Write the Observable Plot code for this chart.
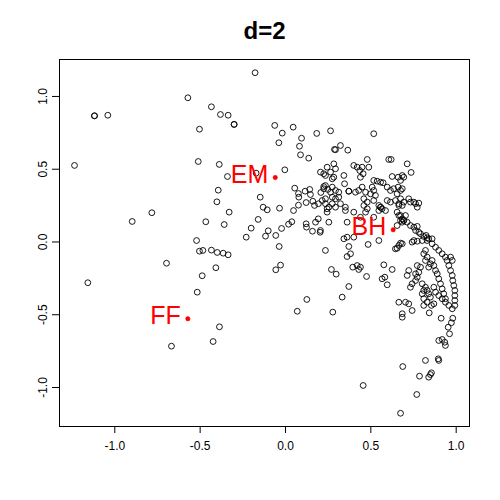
<!DOCTYPE html>
<html><head><meta charset="utf-8">
<script src="https://cdn.jsdelivr.net/npm/d3@7"></script>
<script src="https://cdn.jsdelivr.net/npm/@observablehq/plot@0.6"></script>
<style>body{margin:0;background:#fff}</style>
</head><body><div id="chart"></div>
<script>
const xs = [-1.119,-1.119,-1.041,-0.572,-1.236,-0.504,-0.511,-0.178,-0.434,-0.381,-0.336,-0.301,-0.301,-0.063,-0.019,0.045,-0.039,0.094,0.183,0.264,0.082,0.088,0.136,0.287,-0.388,-0.340,-0.172,-0.004,
0.517,0.322,0.293,0.365,0.479,0.605,0.619,0.713,0.736,0.400,0.420,0.449,0.488,0.435,0.455,0.439,
0.244,0.283,0.293,0.264,0.224,0.234,0.283,0.342,0.346,0.625,0.660,0.517,0.537,0.557,0.572,0.234,0.224,0.274,0.293,0.264,0.312,0.371,0.371,0.410,0.429,0.449,0.469,0.508,0.517,0.498,0.527,0.596,0.615,0.634,0.654,
0.215,0.234,0.274,0.293,0.312,0.234,0.254,0.244,0.293,0.322,0.351,0.351,0.400,0.459,0.479,0.459,0.479,0.469,0.517,0.547,0.557,0.557,0.566,0.586,0.547,0.596,0.615,0.644,0.664,0.654,0.664,
0.254,0.361,0.439,0.517,0.205,0.342,0.361,0.400,0.547,0.674,
0.684,0.693,0.674,0.660,0.684,0.674,0.674,0.664,0.693,0.684,0.722,0.732,0.762,0.781,0.772,0.752,0.674,0.703,0.684,0.693,0.693,0.684,0.713,0.654,0.732,0.752,0.772,0.762,0.781,0.791,0.810,0.830,0.839,0.859,0.824,0.674,0.742,0.752,0.772,0.801,
0.664,0.684,0.830,0.859,0.879,0.898,0.918,0.937,0.947,0.957,0.967,0.977,0.980,0.986,0.992,0.992,0.992,0.992,0.977,0.980,0.972,0.953,0.961,
0.859,0.869,0.879,0.889,0.898,0.908,0.918,0.927,0.937,0.810,0.830,0.820,0.849,0.839,0.772,0.791,0.781,0.762,0.722,0.713,0.772,0.762,0.742,0.732,0.801,0.820,0.830,0.839,0.849,0.869,0.879,0.898,0.918,0.937,0.957,0.801,0.810,0.830,0.810,0.664,0.722,0.869,0.967,0.977,0.644,
0.234,0.269,0.297,0.371,0.381,0.361,0.394,0.420,0.439,0.429,0.475,0.371,0.332,0.576,0.625,0.582,0.596,0.566,0.484,0.654,0.703,0.810,0.820,0.274,0.244,
-0.394,-0.402,-0.330,-0.148,-0.131,-0.107,-0.035,-0.467,-0.359,-0.160,-0.201,-0.230,-0.101,-0.117,-0.057,-0.023,0.018,0.037,-0.521,-0.504,-0.484,-0.434,-0.400,-0.365,-0.336,-0.037,-0.408,-0.488,-0.029,-0.057,-0.517,0.125,
0.054,0.076,0.078,0.115,0.142,0.146,0.121,0.076,0.047,0.160,0.193,0.170,0.207,0.224,0.248,0.205,0.274,0.121,0.123,0.158,0.176,0.192,0.203,
-0.783,-0.898,-0.697,-1.158,0.069,0.277,-0.387,-0.424,-0.668,
0.742,0.684,0.684,0.855,0.842,0.912,0.898,0.918,0.933,0.937,0.895,0.898,0.820,0.687,0.785,0.839,0.849,0.855,0.455,0.769,0.674];
const ys = [0.867,0.867,0.871,0.991,0.526,0.775,0.553,1.163,0.929,0.876,0.871,0.808,0.808,0.801,0.748,0.789,0.682,0.713,0.746,0.764,0.658,0.599,0.576,0.636,0.533,0.450,0.473,0.496,
0.744,0.663,0.634,0.631,0.567,0.567,0.567,0.537,0.478,0.526,0.514,0.514,0.514,0.491,0.469,0.445,
0.514,0.537,0.503,0.480,0.469,0.457,0.445,0.457,0.400,0.450,0.445,0.423,0.418,0.411,0.407,0.388,0.366,0.377,0.354,0.342,0.342,0.349,0.349,0.342,0.354,0.377,0.342,0.377,0.354,0.331,0.320,0.377,0.354,0.366,0.331,
0.285,0.297,0.308,0.297,0.308,0.263,0.239,0.205,0.239,0.263,0.239,0.216,0.205,0.297,0.274,0.251,0.228,0.205,0.285,0.251,0.239,0.239,0.228,0.216,0.216,0.285,0.274,0.285,0.251,0.205,0.182,
0.136,0.136,0.170,0.170,0.079,0.022,0.033,0.033,0.010,0.148,
0.457,0.445,0.423,0.377,0.366,0.354,0.297,0.263,0.274,0.251,0.297,0.274,0.263,0.267,0.239,0.274,0.182,0.182,0.159,0.148,0.148,0.136,0.136,0.113,0.113,0.102,0.107,0.079,0.067,0.056,0.038,0.029,0.022,0.022,0.045,-0.008,-0.001,0.010,0.005,0.010,
-0.024,-0.012,0.010,-0.012,-0.036,-0.058,-0.081,-0.104,-0.127,-0.162,-0.196,-0.230,-0.265,-0.299,-0.333,-0.368,-0.402,-0.436,-0.459,-0.524,-0.555,-0.586,-0.631,
-0.127,-0.162,-0.196,-0.219,-0.253,-0.287,-0.322,-0.356,-0.390,-0.081,-0.104,-0.127,-0.150,-0.173,-0.162,-0.173,-0.208,-0.219,-0.196,-0.230,-0.242,-0.265,-0.287,-0.311,-0.287,-0.311,-0.333,-0.356,-0.379,-0.311,-0.345,-0.368,-0.390,-0.414,-0.436,-0.356,-0.390,-0.414,-0.436,-0.414,-0.425,-0.425,-0.104,-0.127,-0.047,
-0.058,-0.189,-0.221,-0.031,-0.081,-0.100,-0.173,-0.162,-0.173,-0.189,-0.237,-0.306,-0.379,-0.157,-0.189,-0.242,-0.294,-0.253,-0.017,-0.043,-0.414,-0.333,-0.058,0.263,0.228,
0.356,0.276,0.205,0.308,0.239,0.221,0.232,0.139,0.120,0.155,0.095,0.033,0.077,0.040,0.045,0.093,0.122,0.139,0.010,-0.063,-0.058,-0.056,-0.072,-0.077,-0.088,-0.031,-0.177,-0.232,-0.159,-0.191,-0.345,-0.395,
0.370,0.333,0.308,0.349,0.361,0.326,0.271,0.253,0.216,0.280,0.263,0.251,0.340,0.381,0.361,0.480,0.434,0.125,0.102,0.074,0.136,0.159,0.067,
0.201,0.141,-0.146,-0.280,-0.476,-0.482,-0.583,-0.684,-0.716,
-0.471,-0.493,-0.517,-0.436,-0.487,-0.524,-0.677,-0.670,-0.689,-0.711,-0.803,-0.814,-0.814,-0.856,-0.922,-0.929,-0.911,-0.899,-0.986,-1.048,-1.177];

const labelNames = ["EM", "BH", "FF"];
const labelX = [-0.060, 0.631, -0.572];
const labelY = [0.443, 0.084, -0.528];

const xDomain = [-1.324, 1.078];
const yDomain = [-1.268, 1.254];
const xTicks = [-1, -0.5, 0, 0.5, 1];
const xTickLabels = ["-1.0", "-0.5", "0.0", "0.5", "1.0"];
const yTicks = [-1, -0.5, 0, 0.5, 1];
const yTickLabels = ["-1.0", "-0.5", "0.0", "0.5", "1.0"];
const titleText = "d=2";

const points = xs.map((x, i) => ({x, y: ys[i]}));
const labels = labelNames.map((name, i) => ({name, x: labelX[i], y: labelY[i]}));
const font = "'Liberation Sans', Arial, Helvetica, sans-serif";

const chart = Plot.plot({
  width: 500,
  height: 500,
  marginLeft: 59,
  marginRight: 31,
  marginTop: 59,
  marginBottom: 74,
  style: {fontFamily: font, background: "white", color: "black"},
  x: {domain: xDomain},
  y: {domain: yDomain},
  marks: [
    Plot.axisX({ticks: xTicks, tickFormat: d => xTickLabels[xTicks.indexOf(d)], tickSize: 7, tickPadding: 8, fontSize: 12, label: null}),
    Plot.axisY({ticks: yTicks, tickFormat: d => yTickLabels[yTicks.indexOf(d)], tickSize: 7, tickPadding: 6, tickRotate: -90, fontSize: 12, label: null}),
    Plot.frame({stroke: "black", strokeWidth: 1}),
    Plot.dot(points, {x: "x", y: "y", r: 2.9, stroke: "black", strokeWidth: 0.9, fill: "none"}),
    Plot.dot(labels, {x: "x", y: "y", r: 2.2, fill: "red", stroke: "red", strokeWidth: 0.5}),
    Plot.text(labels, {x: "x", y: "y", text: "name", textAnchor: "end", dx: -7, dy: -3, fontSize: 25, fill: "red"}),
    Plot.text([titleText], {text: d => d, frameAnchor: "top", dy: -28, fontSize: 24, fontWeight: "bold", fill: "black", lineAnchor: "middle"})
  ]
});
document.getElementById("chart").appendChild(chart);
</script>
</body></html>
